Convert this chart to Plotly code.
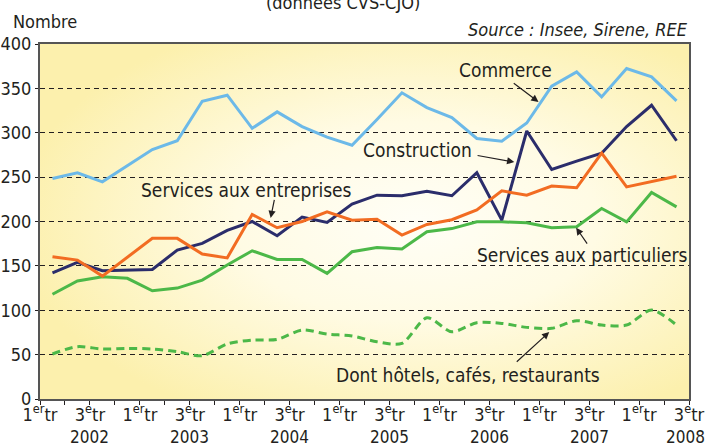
import base64
import plotly.graph_objects as go

# ---------------- data ----------------
# one point per quarter, 2002 T1 .. 2008 T2 (index 0..25)
commerce = [248.5, 254.8, 244.7, 263, 281, 291, 335.5, 342.3, 305, 323.5, 307, 295, 286,
            315, 345, 328.4, 317, 293.5, 290.5, 311, 352.4, 368.5, 340.4, 372.4, 363, 336]
construction = [142.2, 153.9, 144.5, 145, 146, 167.8, 175.3, 190, 200, 184, 205, 199, 219.6,
                229.7, 229, 234, 229, 255, 201.5, 302, 258.6, 268, 277, 307, 331, 291]
entreprises = [160.2, 156.5, 138.5, 160, 181, 181, 163.3, 159, 208, 193, 200, 211, 201.5,
               202.5, 184.7, 196.7, 202, 213, 234.5, 229.7, 240, 238, 277, 239, 244.7, 251]
particuliers = [118, 133, 137.7, 136, 122, 125, 134, 151, 167, 157.3, 157.3, 141.5, 165.9,
                170.8, 169, 188.4, 192, 199.6, 199.6, 198.5, 193, 194, 214.7, 199.6, 232.7, 216.5]
hotels = [50.7, 59, 56.3, 57, 56.3, 53.3, 48.8, 62, 66.4, 67.2, 77.7, 73.2, 71,
          64.5, 62.7, 91.5, 75.8, 86, 85.2, 80.7, 79.6, 88.2, 83.3, 83.3, 100.2, 83.3]

quarter_pos = [i + 0.5 for i in range(len(commerce))]

tick_vals = list(range(0, 27))
tick_text = [("1<sup>er</sup>tr" if v % 4 == 0 else "3<sup>e</sup>tr") if v % 2 == 0 else " "
             for v in tick_vals]
years = ["2002", "2003", "2004", "2005", "2006", "2007", "2008"]
year_pos = [2 + 4 * k for k in range(len(years))]

y_ticks = [0, 50, 100, 150, 200, 250, 300, 350, 400]

FONT = "DejaVu Sans Condensed, sans-serif"
TXT = "#231f20"

# ---------------- background gradient ----------------
svg = """<svg xmlns='http://www.w3.org/2000/svg' width='650' height='355' viewBox='0 0 650 355' preserveAspectRatio='none'>
<defs><radialGradient id='g' cx='0.58' cy='0.5' r='0.62' gradientUnits='objectBoundingBox'>
<stop offset='0' stop-color='#fffef6'/><stop offset='0.45' stop-color='#fffbe4'/>
<stop offset='1' stop-color='#fcf0ad'/></radialGradient></defs>
<rect width='650' height='355' fill='url(#g)'/></svg>"""
bg_src = "data:image/svg+xml;base64," + base64.b64encode(svg.encode()).decode()

fig = go.Figure()

fig.add_trace(go.Scatter(x=quarter_pos, y=commerce, mode="lines",
                         line=dict(color="#6cb9e8", width=3), name="Commerce"))
fig.add_trace(go.Scatter(x=quarter_pos, y=particuliers, mode="lines",
                         line=dict(color="#4cb848", width=3), name="Services aux particuliers"))
fig.add_trace(go.Scatter(x=quarter_pos, y=hotels, mode="lines",
                         line=dict(color="#4cb848", width=3, dash="8px,5px", shape="spline",
                                   smoothing=0.8),
                         name="Dont hôtels, cafés, restaurants"))
fig.add_trace(go.Scatter(x=quarter_pos, y=construction, mode="lines",
                         line=dict(color="#2b2d6b", width=3), name="Construction"))
fig.add_trace(go.Scatter(x=quarter_pos, y=entreprises, mode="lines",
                         line=dict(color="#f26c22", width=3), name="Services aux entreprises"))

annotations = []
# series labels
labels = [
    ("Commerce", 18.64, 370.5),
    ("Construction", 15.12, 281),
    ("Services aux entreprises", 8.28, 235.3),
    ("Services aux particuliers", 21.72, 162),
    ("Dont hôtels, cafés, restaurants", 17.14, 27),
]
for t, x, y in labels:
    annotations.append(dict(text=t, x=x, y=y, xref="x", yref="y", showarrow=False,
                            font=dict(family=FONT, size=19, color=TXT)))
# arrows (tail -> head, data coords)
arrows = [
    ((18.92, 357), (19.97, 334.7)),
    ((17.47, 274.7), (19.0, 267)),
    ((9.4, 226), (9.24, 204)),
    ((21.96, 173.4), (21.48, 193)),
    ((19.04, 40.5), (20.4, 75.4)),
]
for (tx, ty), (hx, hy) in arrows:
    annotations.append(dict(text="", x=hx, y=hy, ax=tx, ay=ty, xref="x", yref="y",
                            axref="x", ayref="y", showarrow=True, arrowhead=2,
                            arrowsize=1.2, arrowwidth=1.2, arrowcolor="#231f20",
                            standoff=0))
# years
for k, (yr, xp) in enumerate(zip(years, year_pos)):
    annotations.append(dict(text=yr, x=xp, y=-0.107, xref="x", yref="paper",
                            yanchor="middle", showarrow=False,
                            xshift=-4 if k == len(years) - 1 else 0,
                            font=dict(family=FONT, size=17, color=TXT)))
# header texts
annotations.append(dict(text="Nombre", x=-0.045, y=1.064, xref="paper", yref="paper",
                        xanchor="left", yanchor="middle", showarrow=False,
                        font=dict(family=FONT, size=18, color=TXT)))
annotations.append(dict(text="(données CVS-CJO)", x=0.467, y=1.118, xref="paper", yref="paper",
                        xanchor="center", yanchor="middle", showarrow=False,
                        font=dict(family=FONT, size=18, color=TXT)))
annotations.append(dict(text="<i>Source : Insee, Sirene, REE</i>", x=1.002, y=1.042,
                        xref="paper", yref="paper", xanchor="right", yanchor="middle",
                        showarrow=False, font=dict(family=FONT, size=18, color=TXT)))

fig.update_layout(
    width=705, height=448,
    margin=dict(l=40, r=16, t=44, b=49, autoexpand=False),
    paper_bgcolor="white",
    plot_bgcolor="rgba(0,0,0,0)",
    showlegend=False,
    annotations=annotations,
    images=[dict(source=bg_src, xref="paper", yref="paper", x=0, y=1, sizex=1, sizey=1,
                 xanchor="left", yanchor="top", sizing="stretch", layer="below")],
    font=dict(family=FONT, color=TXT),
)
fig.update_xaxes(range=[0, 26], tickvals=tick_vals, ticktext=tick_text,
                 ticks="outside", ticklen=4, tickcolor="#231f20", tickwidth=1,
                 ticklabelstandoff=-6, automargin=False,
                 showgrid=False, zeroline=False,
                 showline=True, linecolor="#555555", linewidth=2, mirror=True,
                 tickfont=dict(family=FONT, size=18, color=TXT))
fig.update_yaxes(range=[0, 400], tickvals=y_ticks, ticks="outside", ticklen=3,
                 tickcolor="#231f20", showgrid=True, gridcolor="#231f20", gridwidth=1.2,
                 griddash="5px,4px", zeroline=False, automargin=False,
                 showline=True, linecolor="#555555", linewidth=2, mirror=True,
                 tickfont=dict(family=FONT, size=18, color=TXT))

fig.write_html(
    "out.html",
    config={"displayModeBar": False},
    post_script="document.body.style.margin='0';document.body.style.overflow='hidden';",
)
